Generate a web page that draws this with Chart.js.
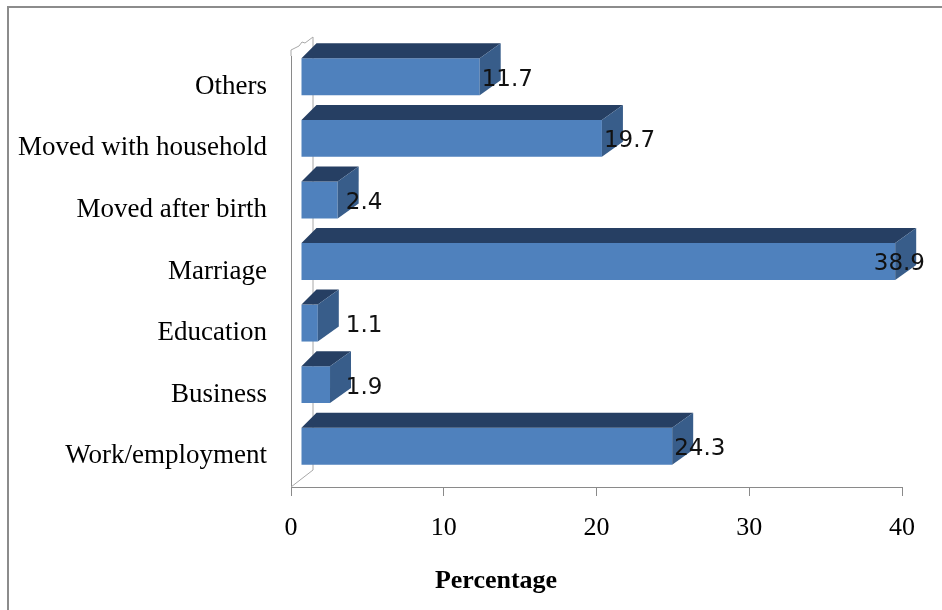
<!DOCTYPE html>
<html>
<head>
<meta charset="utf-8">
<script src="https://cdn.jsdelivr.net/npm/chart.js@4.4.1/dist/chart.umd.min.js"></script>
<style>
  html, body { margin: 0; padding: 0; background: #fff; }
</style>
</head>
<body>
<canvas id="myChart" width="942" height="610"></canvas>
<script>
// data
const categories = ['Others', 'Moved with household', 'Moved after birth', 'Marriage', 'Education', 'Business', 'Work/employment'];
const percentValues = [11.7, 19.7, 2.4, 38.9, 1.1, 1.9, 24.3];
const xTickValues = [0, 10, 20, 30, 40];
const xAxisTitle = 'Percentage';

const frontColor = '#4f81bd';
const topColor = '#263f63';
const sideColor = '#385d8a';
const axisColor = '#8a8a8a';

// 3d look: bars sit a little behind the front edge of the floor
const shift = { dx: 10, dy: -10 };
const depth = { dx: 21, dy: -15 };

const bars3d = {
    id: 'bars3d',
    beforeDraw(chart) {
        const ctx = chart.ctx;
        // outer frame (only top/left visible in the picture)
        ctx.save();
        ctx.strokeStyle = '#8c8c8c';
        ctx.lineWidth = 2;
        ctx.strokeRect(8, 7, 1000, 1000);
        ctx.restore();
    },
    beforeDatasetsDraw(chart) {
        const { ctx, chartArea: a } = chart;
        // side wall and floor edges
        ctx.save();
        ctx.strokeStyle = '#a8a8a8';
        ctx.lineWidth = 1;
        ctx.beginPath();
        ctx.moveTo(a.left, a.top);
        ctx.lineTo(a.left, a.top - 6);
        ctx.lineTo(a.left + 8, a.top - 10);
        ctx.lineTo(a.left + 11, a.top - 14);
        ctx.lineTo(a.left + 14, a.top - 13);
        ctx.lineTo(a.left + 22, a.top - 19);
        ctx.lineTo(a.left + 22, a.bottom - 17);
        ctx.lineTo(a.left, a.bottom);
        ctx.stroke();
        ctx.restore();

        ctx.save();
        ctx.translate(shift.dx, shift.dy);
    },
    afterDatasetsDraw(chart) {
        const ctx = chart.ctx;
        const meta = chart.getDatasetMeta(0);
        meta.data.forEach(bar => {
            const x0 = bar.base, x1 = bar.x;
            const y0 = bar.y - bar.height / 2, y1 = bar.y + bar.height / 2;
            // top face
            ctx.fillStyle = topColor;
            ctx.beginPath();
            ctx.moveTo(x0, y0);
            ctx.lineTo(x0 + depth.dx - 6, y0 + depth.dy);
            ctx.lineTo(x1 + depth.dx, y0 + depth.dy);
            ctx.lineTo(x1, y0);
            ctx.closePath();
            ctx.fill();
            // side face
            ctx.fillStyle = sideColor;
            ctx.beginPath();
            ctx.moveTo(x1, y0);
            ctx.lineTo(x1 + depth.dx, y0 + depth.dy);
            ctx.lineTo(x1 + depth.dx, y1 + depth.dy);
            ctx.lineTo(x1, y1);
            ctx.closePath();
            ctx.fill();
        });
        ctx.restore();

        // value labels
        const xs = chart.scales.x;
        ctx.save();
        ctx.font = '23px "DejaVu Sans"';
        ctx.fillStyle = '#111';
        ctx.textBaseline = 'middle';
        ctx.textAlign = 'left';
        meta.data.forEach((bar, i) => {
            const v = percentValues[i];
            const txt = String(v);
            const w = ctx.measureText(txt).width;
            let x = xs.getPixelForValue(Math.max(v, 2.8)) + shift.dx + 2;
            x = Math.min(x, chart.chartArea.right + 23 - w);
            ctx.fillText(txt, x, bar.y + shift.dy + 3);
        });
        ctx.restore();
    },
    afterDraw(chart) {
        const ctx = chart.ctx;
        ctx.save();
        ctx.font = 'bold 26px "Liberation Serif"';
        ctx.fillStyle = '#000';
        ctx.textAlign = 'center';
        ctx.textBaseline = 'middle';
        ctx.fillText(xAxisTitle, 496, 581);
        ctx.restore();
    }
};

const ctx = document.getElementById('myChart').getContext('2d');
const myChart = new Chart(ctx, {
    type: 'bar',
    data: {
        labels: categories,
        datasets: [{
            data: percentValues,
            backgroundColor: frontColor,
            barPercentage: 0.6,
            categoryPercentage: 1.0
        }]
    },
    options: {
        indexAxis: 'y',
        responsive: false,
        animation: false,
        layout: { padding: { top: 56, right: 40, left: 0, bottom: 0 } },
        plugins: {
            legend: { display: false },
            tooltip: { enabled: false }
        },
        scales: {
            x: {
                min: 0,
                max: 40,
                afterBuildTicks: s => { s.ticks = xTickValues.map(v => ({ value: v })); },
                afterFit: s => { s.height = 123; },
                grid: { drawOnChartArea: false, drawTicks: true, tickLength: 9, color: axisColor },
                border: { color: axisColor },
                ticks: {
                    color: '#000',
                    padding: 17,
                    font: { family: '"Liberation Serif"', size: 26 }
                }
            },
            y: {
                afterFit: s => { s.width = 291; },
                grid: { drawOnChartArea: false, drawTicks: false },
                border: { color: axisColor },
                ticks: {
                    color: '#000',
                    padding: 24,
                    font: { family: '"Liberation Serif"', size: 27 }
                }
            }
        }
    },
    plugins: [bars3d]
});
</script>
</body>
</html>
